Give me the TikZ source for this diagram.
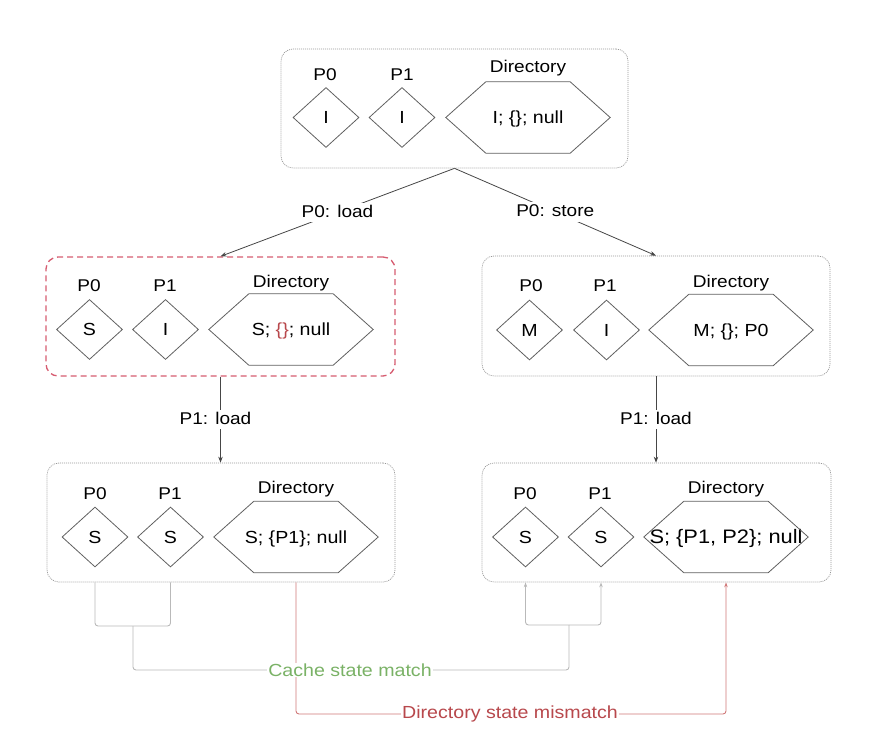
\documentclass[tikz,border=0pt]{standalone}
\usepackage{fontspec}
\setmainfont{Liberation Sans}[FakeStretch=1.12]
\usetikzlibrary{shapes.geometric,arrows.meta,backgrounds}
\definecolor{boxgray}{RGB}{150,150,150}
\definecolor{shapegray}{RGB}{95,95,95}
\definecolor{dashred}{RGB}{214,92,112}
\definecolor{txtred}{RGB}{184,72,76}
\definecolor{lnred}{RGB}{208,120,120}
\definecolor{txtgreen}{RGB}{122,178,102}
\definecolor{lngray}{RGB}{185,185,185}
\definecolor{arrgray}{RGB}{70,70,70}
\newcommand\hexdraw[1]{\draw[shapeline] (#1.west) -- ([xshift=40pt]#1.north west) -- ([xshift=-40pt]#1.north east) -- (#1.east) -- ([xshift=-40pt]#1.south east) -- ([xshift=40pt]#1.south west) -- cycle;}
\tikzset{
  statebox/.style={draw=boxgray, line width=0.7pt, dash pattern=on 1pt off 1pt, rounded corners=12pt, minimum width=348pt, minimum height=119pt, inner sep=0pt},
  redbox/.style={draw=dashred, line width=1.3pt, dash pattern=on 6pt off 4pt, rounded corners=12pt, minimum width=349pt, minimum height=119pt, inner sep=0pt},
  shapeline/.style={draw=shapegray, line width=0.8pt},
  cachenode/.style={diamond, draw=shapegray, line width=0.8pt, minimum width=66pt, minimum height=60pt, inner sep=0pt, font=\fontsize{17.5}{20}\selectfont, text height=12.5pt, text depth=0pt},
  hexnode/.style={rectangle, minimum width=164pt, minimum height=71pt, inner sep=0pt, font=\fontsize{17.5}{20}\selectfont, text height=12.5pt, text depth=0pt},
  lab/.style={anchor=base, font=\fontsize{17}{20}\selectfont, inner sep=0pt},
  elab/.style={fill=white, font=\fontsize{17}{20}\selectfont, inner sep=2pt, text height=12.5pt, text depth=3pt},
  arr/.style={draw=arrgray, line width=0.8pt, -{Stealth[length=6pt,width=4.5pt]}},
  cline/.style={draw=lngray, line width=0.9pt, rounded corners=3pt},
  dline/.style={draw=lnred, line width=0.9pt, rounded corners=3pt},
  ctxt/.style={fill=white, text=txtgreen, font=\fontsize{17.5}{20}\selectfont, inner sep=1pt},
  dtxt/.style={fill=white, text=txtred, font=\fontsize{17.5}{20}\selectfont, inner sep=1pt},
}
\begin{document}
\begin{tikzpicture}[x=1pt, y=-1pt]
\useasboundingbox (0,0) rectangle (888,738);
% boxes
\node[statebox, minimum width=347pt] (top) at (454.5,108.5) {};
\node[redbox] (ml) at (220.5,316.5) {};
\node[statebox, minimum height=120pt] (mr) at (656,316) {};
\node[statebox] (bl) at (221,522.5) {};
\node[statebox, minimum width=349pt] (br) at (656.5,522.5) {};
% top box
\node[lab] (tl0) at (325,81) {P0};
\node[lab] (tl1) at (402,81) {P1};
\node[lab] (tld) at (528,73) {Directory};
\node[cachenode] (tp0) at (326,117.5) {I};
\node[cachenode] (tp1) at (402,117.5) {I};
\node[hexnode] (td) at (528,117.5) {I; \{\}; null};
\hexdraw{td}
% middle left
\node[lab] (mll0) at (89,291) {P0};
\node[lab] (mll1) at (165,291) {P1};
\node[lab] (mlld) at (291,287) {Directory};
\node[cachenode] (mlp0) at (89.5,329.5) {S};
\node[cachenode] (mlp1) at (165.5,329.5) {I};
\node[hexnode] (mld) at (291,329.5) {S; \textcolor{txtred}{\{\}}; null};
\hexdraw{mld}
% middle right
\node[lab] (mrl0) at (531,291) {P0};
\node[lab] (mrl1) at (605,291) {P1};
\node[lab] (mrld) at (731,287) {Directory};
\node[cachenode] (mrp0) at (529.5,330) {M};
\node[cachenode] (mrp1) at (606.5,330) {I};
\node[hexnode] (mrd) at (731,330) {M; \{\}; P0};
\hexdraw{mrd}
% bottom left
\node[lab] (bll0) at (95,499) {P0};
\node[lab] (bll1) at (170,499) {P1};
\node[lab] (blld) at (296,493) {Directory};
\node[cachenode] (blp0) at (95,537) {S};
\node[cachenode] (blp1) at (170.5,537) {S};
\node[hexnode] (bld) at (296,537) {S; \{P1\}; null};
\hexdraw{bld}
% bottom right
\node[lab] (brl0) at (525,499) {P0};
\node[lab] (brl1) at (600,499) {P1};
\node[lab] (brld) at (726,493) {Directory};
\node[cachenode] (brp0) at (525.5,537) {S};
\node[cachenode] (brp1) at (601,537) {S};
\node[hexnode, font=\fontsize{19.5}{22}\selectfont] (brd) at (726,537) {S; \{P1, P2\}; null};
\hexdraw{brd}
% transitions
\draw[arr] (top.south) -- node[elab] {P0: load} (ml.north);
\draw[arr] (top.south) -- node[elab] {P0: store} (mr.north);
\draw[arr] (ml.south) -- node[elab, xshift=-5pt] {P1: load} (ml.south |- bl.north);
\draw[arr] (mr.south) -- node[elab] {P1: load} (mr.south |- br.north);
% comparison connectors
\coordinate (lj) at (133,626);
\coordinate (rj) at (569,625);
\coordinate (cm) at (350,670);
\coordinate (dm) at (510,714);
\draw[cline] (blp0 |- bl.south) |- (lj) -| (blp1 |- bl.south);
\draw[cline] (lj) |- (cm) -| (rj);
\draw[cline, -{Stealth[length=5pt,width=3.5pt]}] (rj) -| (brp0 |- br.south);
\draw[cline, -{Stealth[length=5pt,width=3.5pt]}] (rj) -| (brp1 |- br.south);
\draw[dline, -{Stealth[length=5pt,width=3.5pt]}] (bld |- bl.south) |- (dm) -| (brd |- br.south);
\node[ctxt] (cmt) at (cm) {Cache state match};
\node[dtxt] (dmt) at (dm) {Directory state mismatch};
\end{tikzpicture}
\end{document}
